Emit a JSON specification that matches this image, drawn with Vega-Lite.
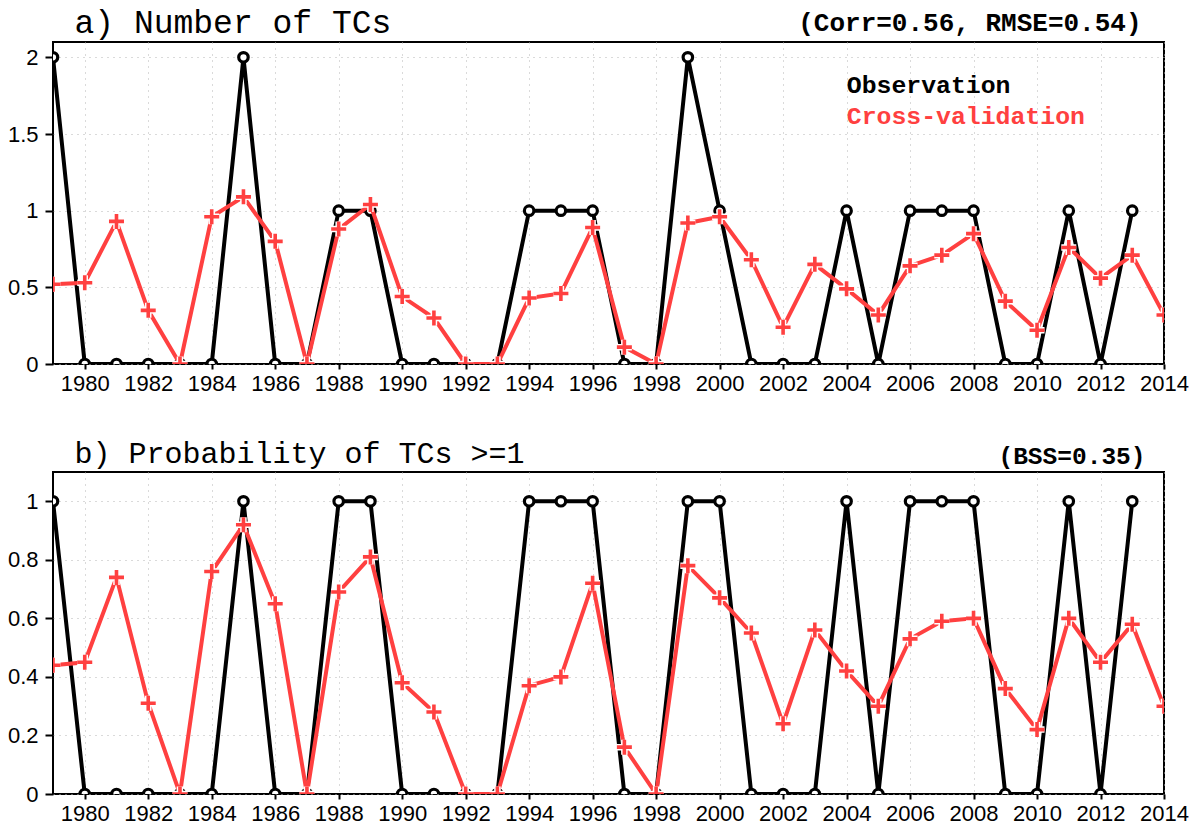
{
  "$schema": "https://vega.github.io/schema/vega-lite/v6.json",
  "background": "white",
  "padding": {"left": 6, "top": 5, "right": 0, "bottom": 0},
  "bounds": "flush",
  "spacing": 108,
  "resolve": {"legend": {"color": "independent"}},
  "config": {
    "view": {"stroke": "black", "strokeWidth": 2},
    "axis": {"labelFont": "Liberation Sans", "labelFontSize": 22, "labelColor": "black", "tickColor": "black", "tickWidth": 2, "domain": false, "gridColor": "#b4b4b4", "gridDash": [1, 5], "gridWidth": 1, "labelFlush": false, "labelOverlap": false}
  },
  "datasets": {
    "tcs": [
      {"year": 1979, "series": "Observation", "value": 2},
      {"year": 1980, "series": "Observation", "value": 0},
      {"year": 1981, "series": "Observation", "value": 0},
      {"year": 1982, "series": "Observation", "value": 0},
      {"year": 1983, "series": "Observation", "value": 0},
      {"year": 1984, "series": "Observation", "value": 0},
      {"year": 1985, "series": "Observation", "value": 2},
      {"year": 1986, "series": "Observation", "value": 0},
      {"year": 1987, "series": "Observation", "value": 0},
      {"year": 1988, "series": "Observation", "value": 1},
      {"year": 1989, "series": "Observation", "value": 1},
      {"year": 1990, "series": "Observation", "value": 0},
      {"year": 1991, "series": "Observation", "value": 0},
      {"year": 1992, "series": "Observation", "value": 0},
      {"year": 1993, "series": "Observation", "value": 0},
      {"year": 1994, "series": "Observation", "value": 1},
      {"year": 1995, "series": "Observation", "value": 1},
      {"year": 1996, "series": "Observation", "value": 1},
      {"year": 1997, "series": "Observation", "value": 0},
      {"year": 1998, "series": "Observation", "value": 0},
      {"year": 1999, "series": "Observation", "value": 2},
      {"year": 2000, "series": "Observation", "value": 1},
      {"year": 2001, "series": "Observation", "value": 0},
      {"year": 2002, "series": "Observation", "value": 0},
      {"year": 2003, "series": "Observation", "value": 0},
      {"year": 2004, "series": "Observation", "value": 1},
      {"year": 2005, "series": "Observation", "value": 0},
      {"year": 2006, "series": "Observation", "value": 1},
      {"year": 2007, "series": "Observation", "value": 1},
      {"year": 2008, "series": "Observation", "value": 1},
      {"year": 2009, "series": "Observation", "value": 0},
      {"year": 2010, "series": "Observation", "value": 0},
      {"year": 2011, "series": "Observation", "value": 1},
      {"year": 2012, "series": "Observation", "value": 0},
      {"year": 2013, "series": "Observation", "value": 1},
      {"year": 1979, "series": "Cross-validation", "value": 0.52},
      {"year": 1980, "series": "Cross-validation", "value": 0.53},
      {"year": 1981, "series": "Cross-validation", "value": 0.93},
      {"year": 1982, "series": "Cross-validation", "value": 0.35},
      {"year": 1983, "series": "Cross-validation", "value": 0},
      {"year": 1984, "series": "Cross-validation", "value": 0.96},
      {"year": 1985, "series": "Cross-validation", "value": 1.09},
      {"year": 1986, "series": "Cross-validation", "value": 0.8},
      {"year": 1987, "series": "Cross-validation", "value": 0},
      {"year": 1988, "series": "Cross-validation", "value": 0.88},
      {"year": 1989, "series": "Cross-validation", "value": 1.04},
      {"year": 1990, "series": "Cross-validation", "value": 0.44},
      {"year": 1991, "series": "Cross-validation", "value": 0.3},
      {"year": 1992, "series": "Cross-validation", "value": 0},
      {"year": 1993, "series": "Cross-validation", "value": 0},
      {"year": 1994, "series": "Cross-validation", "value": 0.43},
      {"year": 1995, "series": "Cross-validation", "value": 0.46},
      {"year": 1996, "series": "Cross-validation", "value": 0.89},
      {"year": 1997, "series": "Cross-validation", "value": 0.11},
      {"year": 1998, "series": "Cross-validation", "value": 0},
      {"year": 1999, "series": "Cross-validation", "value": 0.92},
      {"year": 2000, "series": "Cross-validation", "value": 0.96},
      {"year": 2001, "series": "Cross-validation", "value": 0.68},
      {"year": 2002, "series": "Cross-validation", "value": 0.24},
      {"year": 2003, "series": "Cross-validation", "value": 0.65},
      {"year": 2004, "series": "Cross-validation", "value": 0.49},
      {"year": 2005, "series": "Cross-validation", "value": 0.32},
      {"year": 2006, "series": "Cross-validation", "value": 0.64},
      {"year": 2007, "series": "Cross-validation", "value": 0.71},
      {"year": 2008, "series": "Cross-validation", "value": 0.85},
      {"year": 2009, "series": "Cross-validation", "value": 0.41},
      {"year": 2010, "series": "Cross-validation", "value": 0.22},
      {"year": 2011, "series": "Cross-validation", "value": 0.76},
      {"year": 2012, "series": "Cross-validation", "value": 0.56},
      {"year": 2013, "series": "Cross-validation", "value": 0.71},
      {"year": 2014, "series": "Cross-validation", "value": 0.32}
    ],
    "prob": [
      {"year": 1979, "series": "Observation", "value": 1},
      {"year": 1980, "series": "Observation", "value": 0},
      {"year": 1981, "series": "Observation", "value": 0},
      {"year": 1982, "series": "Observation", "value": 0},
      {"year": 1983, "series": "Observation", "value": 0},
      {"year": 1984, "series": "Observation", "value": 0},
      {"year": 1985, "series": "Observation", "value": 1},
      {"year": 1986, "series": "Observation", "value": 0},
      {"year": 1987, "series": "Observation", "value": 0},
      {"year": 1988, "series": "Observation", "value": 1},
      {"year": 1989, "series": "Observation", "value": 1},
      {"year": 1990, "series": "Observation", "value": 0},
      {"year": 1991, "series": "Observation", "value": 0},
      {"year": 1992, "series": "Observation", "value": 0},
      {"year": 1993, "series": "Observation", "value": 0},
      {"year": 1994, "series": "Observation", "value": 1},
      {"year": 1995, "series": "Observation", "value": 1},
      {"year": 1996, "series": "Observation", "value": 1},
      {"year": 1997, "series": "Observation", "value": 0},
      {"year": 1998, "series": "Observation", "value": 0},
      {"year": 1999, "series": "Observation", "value": 1},
      {"year": 2000, "series": "Observation", "value": 1},
      {"year": 2001, "series": "Observation", "value": 0},
      {"year": 2002, "series": "Observation", "value": 0},
      {"year": 2003, "series": "Observation", "value": 0},
      {"year": 2004, "series": "Observation", "value": 1},
      {"year": 2005, "series": "Observation", "value": 0},
      {"year": 2006, "series": "Observation", "value": 1},
      {"year": 2007, "series": "Observation", "value": 1},
      {"year": 2008, "series": "Observation", "value": 1},
      {"year": 2009, "series": "Observation", "value": 0},
      {"year": 2010, "series": "Observation", "value": 0},
      {"year": 2011, "series": "Observation", "value": 1},
      {"year": 2012, "series": "Observation", "value": 0},
      {"year": 2013, "series": "Observation", "value": 1},
      {"year": 1979, "series": "Cross-validation", "value": 0.44},
      {"year": 1980, "series": "Cross-validation", "value": 0.45},
      {"year": 1981, "series": "Cross-validation", "value": 0.74},
      {"year": 1982, "series": "Cross-validation", "value": 0.31},
      {"year": 1983, "series": "Cross-validation", "value": 0},
      {"year": 1984, "series": "Cross-validation", "value": 0.76},
      {"year": 1985, "series": "Cross-validation", "value": 0.92},
      {"year": 1986, "series": "Cross-validation", "value": 0.65},
      {"year": 1987, "series": "Cross-validation", "value": 0},
      {"year": 1988, "series": "Cross-validation", "value": 0.69},
      {"year": 1989, "series": "Cross-validation", "value": 0.81},
      {"year": 1990, "series": "Cross-validation", "value": 0.38},
      {"year": 1991, "series": "Cross-validation", "value": 0.28},
      {"year": 1992, "series": "Cross-validation", "value": 0},
      {"year": 1993, "series": "Cross-validation", "value": 0},
      {"year": 1994, "series": "Cross-validation", "value": 0.37},
      {"year": 1995, "series": "Cross-validation", "value": 0.4},
      {"year": 1996, "series": "Cross-validation", "value": 0.72},
      {"year": 1997, "series": "Cross-validation", "value": 0.16},
      {"year": 1998, "series": "Cross-validation", "value": 0},
      {"year": 1999, "series": "Cross-validation", "value": 0.78},
      {"year": 2000, "series": "Cross-validation", "value": 0.67},
      {"year": 2001, "series": "Cross-validation", "value": 0.55},
      {"year": 2002, "series": "Cross-validation", "value": 0.24},
      {"year": 2003, "series": "Cross-validation", "value": 0.56},
      {"year": 2004, "series": "Cross-validation", "value": 0.42},
      {"year": 2005, "series": "Cross-validation", "value": 0.3},
      {"year": 2006, "series": "Cross-validation", "value": 0.53},
      {"year": 2007, "series": "Cross-validation", "value": 0.59},
      {"year": 2008, "series": "Cross-validation", "value": 0.6},
      {"year": 2009, "series": "Cross-validation", "value": 0.36},
      {"year": 2010, "series": "Cross-validation", "value": 0.22},
      {"year": 2011, "series": "Cross-validation", "value": 0.6},
      {"year": 2012, "series": "Cross-validation", "value": 0.45},
      {"year": 2013, "series": "Cross-validation", "value": 0.58},
      {"year": 2014, "series": "Cross-validation", "value": 0.3}
    ]
  },
  "vconcat": [
    {
      "width": 1111,
      "height": 322,
      "data": {"name": "tcs"},
      "encoding": {
        "x": {"field": "year", "type": "quantitative", "scale": {"domain": [1979, 2014], "nice": false, "zero": false},
          "axis": {"values": [1980, 1982, 1984, 1986, 1988, 1990, 1992, 1994, 1996, 1998, 2000, 2002, 2004, 2006, 2008, 2010, 2012, 2014], "format": "d", "labelFont": "Liberation Sans", "labelFontSize": 22, "tickSize": 5, "labelPadding": 4, "grid": true,
            "title": "(Corr=0.56, RMSE=0.54)", "titleFont": "Liberation Mono", "titleFontSize": 26, "titleFontWeight": "bold", "titleColor": "black", "titleAnchor": "end", "titleAlign": "right", "titleBaseline": "alphabetic", "titleX": 1088, "titleY": -334}},
        "y": {"field": "value", "type": "quantitative", "scale": {"domain": [0, 2.1], "nice": false},
          "axis": {"values": [0, 0.5, 1, 1.5, 2], "format": "~g", "labelFont": "Liberation Sans", "labelFontSize": 22, "tickSize": 8, "labelPadding": 7, "grid": true,
            "title": "a) Number of TCs", "titleFont": "Liberation Mono", "titleFontSize": 33, "titleFontWeight": "normal", "titleColor": "black", "titleAngle": 0, "titleAlign": "left", "titleBaseline": "alphabetic", "titleX": 21, "titleY": -10}}
      },
      "layer": [
        {"transform": [{"filter": "datum.series === 'Observation'"}],
         "mark": {"type": "line", "strokeWidth": 4, "clip": true},
         "encoding": {"color": {"field": "series", "type": "nominal", "scale": {"domain": ["Observation", "Cross-validation"], "range": ["#000000", "#ff4040"]},
           "legend": {"orient": "none", "legendX": 769, "legendY": 32, "title": null, "symbolSize": 0, "symbolOpacity": 0, "symbolStrokeWidth": 0, "labelFont": "Liberation Mono", "labelFontSize": 24.8, "labelFontWeight": "bold", "labelOffset": 0, "rowPadding": 5, "padding": 0, "labelLimit": 400,
             "encode": {"labels": {"update": {"fill": {"signal": "datum.label === 'Observation' ? '#000000' : '#ff4040'"}}}}}}}},
        {"transform": [{"filter": "datum.series === 'Observation'"}],
         "mark": {"type": "point", "shape": "circle", "size": 90, "filled": true, "fill": "white", "stroke": "black", "strokeWidth": 3.2, "opacity": 1, "clip": true}},
        {"transform": [{"filter": "datum.series === 'Cross-validation'"}],
         "mark": {"type": "line", "strokeWidth": 4, "clip": true},
         "encoding": {"color": {"field": "series", "type": "nominal", "scale": {"domain": ["Observation", "Cross-validation"], "range": ["#000000", "#ff4040"]},
           "legend": {"orient": "none", "legendX": 769, "legendY": 32, "title": null, "symbolSize": 0, "symbolOpacity": 0, "symbolStrokeWidth": 0, "labelFont": "Liberation Mono", "labelFontSize": 24.8, "labelFontWeight": "bold", "labelOffset": 0, "rowPadding": 5, "padding": 0, "labelLimit": 400,
             "encode": {"labels": {"update": {"fill": {"signal": "datum.label === 'Observation' ? '#000000' : '#ff4040'"}}}}}}}},
        {"transform": [{"filter": "datum.series === 'Cross-validation'"}],
         "mark": {"type": "point", "shape": "M-1,0L1,0M0,-1L0,1", "size": 225, "filled": false, "stroke": "white", "strokeWidth": 6.5, "opacity": 1, "clip": true}},
        {"transform": [{"filter": "datum.series === 'Cross-validation'"}],
         "mark": {"type": "point", "shape": "M-1,0L1,0M0,-1L0,1", "size": 225, "filled": false, "stroke": "#ff4040", "strokeWidth": 3.6, "opacity": 1, "clip": true}}
      ]
    },
    {
      "width": 1111,
      "height": 322,
      "data": {"name": "prob"},
      "encoding": {
        "x": {"field": "year", "type": "quantitative", "scale": {"domain": [1979, 2014], "nice": false, "zero": false},
          "axis": {"values": [1980, 1982, 1984, 1986, 1988, 1990, 1992, 1994, 1996, 1998, 2000, 2002, 2004, 2006, 2008, 2010, 2012, 2014], "format": "d", "labelFont": "Liberation Sans", "labelFontSize": 22, "tickSize": 5, "labelPadding": 4, "grid": true,
            "title": "(BSS=0.35)", "titleFont": "Liberation Mono", "titleFontSize": 24.5, "titleFontWeight": "bold", "titleColor": "black", "titleAnchor": "end", "titleAlign": "right", "titleBaseline": "alphabetic", "titleX": 1092, "titleY": -331}},
        "y": {"field": "value", "type": "quantitative", "scale": {"domain": [0, 1.1], "nice": false},
          "axis": {"values": [0, 0.2, 0.4, 0.6, 0.8, 1], "format": "~g", "labelFont": "Liberation Sans", "labelFontSize": 22, "tickSize": 8, "labelPadding": 7, "grid": true,
            "title": "b) Probability of TCs >=1", "titleFont": "Liberation Mono", "titleFontSize": 30, "titleFontWeight": "normal", "titleColor": "black", "titleAngle": 0, "titleAlign": "left", "titleBaseline": "alphabetic", "titleX": 21, "titleY": -10}}
      },
      "layer": [
        {"transform": [{"filter": "datum.series === 'Observation'"}],
         "mark": {"type": "line", "strokeWidth": 4, "clip": true},
         "encoding": {"color": {"field": "series", "type": "nominal", "scale": {"domain": ["Observation", "Cross-validation"], "range": ["#000000", "#ff4040"]}, "legend": null}}},
        {"transform": [{"filter": "datum.series === 'Observation'"}],
         "mark": {"type": "point", "shape": "circle", "size": 90, "filled": true, "fill": "white", "stroke": "black", "strokeWidth": 3.2, "opacity": 1, "clip": true}},
        {"transform": [{"filter": "datum.series === 'Cross-validation'"}],
         "mark": {"type": "line", "strokeWidth": 4, "clip": true},
         "encoding": {"color": {"field": "series", "type": "nominal", "scale": {"domain": ["Observation", "Cross-validation"], "range": ["#000000", "#ff4040"]}, "legend": null}}},
        {"transform": [{"filter": "datum.series === 'Cross-validation'"}],
         "mark": {"type": "point", "shape": "M-1,0L1,0M0,-1L0,1", "size": 225, "filled": false, "stroke": "white", "strokeWidth": 6.5, "opacity": 1, "clip": true}},
        {"transform": [{"filter": "datum.series === 'Cross-validation'"}],
         "mark": {"type": "point", "shape": "M-1,0L1,0M0,-1L0,1", "size": 225, "filled": false, "stroke": "#ff4040", "strokeWidth": 3.6, "opacity": 1, "clip": true}}
      ]
    }
  ]
}
